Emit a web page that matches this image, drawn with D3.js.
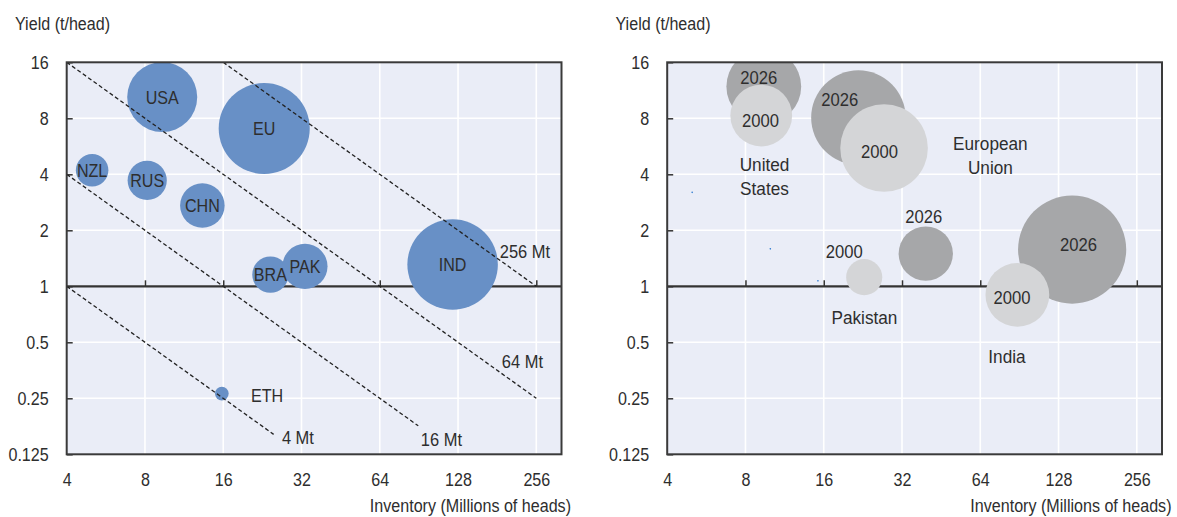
<!DOCTYPE html>
<html><head><meta charset="utf-8">
<script src="https://cdn.jsdelivr.net/npm/d3@7"></script>
<style>
body{margin:0;background:#fff}
svg text{font-family:"Liberation Sans",Arial,Helvetica,sans-serif;fill:#2e2e2e;font-size:18.5px}
</style>
</head><body>
<svg id="chart" width="1177" height="517"></svg>
<script>
// ---------- data ----------
const xTicks = [4, 8, 16, 32, 64, 128, 256];
const yTicks = [0.125, 0.25, 0.5, 1, 2, 4, 8, 16];
const yTickLabels = ["0.125", "0.25", "0.5", "1", "2", "4", "8", "16"];
const yTitle = "Yield (t/head)";
const xTitle = "Inventory (Millions of heads)";

// left panel: countries
const countries  = ["USA", "EU", "NZL", "RUS", "CHN", "IND", "BRA", "PAK", "ETH"];
const inventory  = [9.32, 23.0, 5.01, 8.16, 13.3, 122, 24.3, 33.0, 15.8];
const yields     = [10.4, 7.05, 4.21, 3.71, 2.72, 1.31, 1.155, 1.28, 0.265];
const production = [96.4, 163, 20.8, 30.2, 39, 161, 26, 40, 3.7];
// ETH label sits outside its bubble
const ethLabelAt = [23.6, 0.259];

// iso-production lines (Mt)
const isoMt   = [4, 16, 64, 256];
const isoFrom = [4, 4, 4, 16];
const isoTo   = [25, 90, 256, 256];
const isoLabelAt = [[26.9, 0.154], [92.1, 0.150], [188.6, 0.395], [185.3, 1.54]];

// right panel: 2000 vs 2026
const regions    = ["United States", "European Union", "Pakistan", "India"];
const regionLines = [["United", "States"], ["European", "Union"], ["Pakistan"], ["India"]];
const inv2000    = [9.2, 27.3, 22.9, 88.9];
const yld2000    = [8.28, 5.54, 1.12, 0.899];
const prod2000   = [75, 151, 25.6, 80];
const inv2026    = [9.41, 21.75, 39.5, 144.4];
const yld2026    = [11.86, 8.07, 1.50, 1.575];
const prod2026   = [110, 175.6, 58, 230];
const lab2000At  = [[9.14, 7.79], [26.2, 5.31], [19.2, 1.54], [84.8, 0.866]];
const lab2026At  = [[9.0, 13.2], [18.43, 10.15], [38.8, 2.38], [152.9, 1.675]];
const regionLabelAt = [[9.47, 4.5], [70.0, 5.82], [22.94, 0.68], [81.1, 0.42]];
// stray tiny points visible in the source
const strayX = [4.99, 9.97, 15.2];
const strayY = [3.2, 1.59, 1.07];

// ---------- layout ----------
const svg = d3.select("#chart");
const plotL = 66.7, plotR = 561.5, plotT = 62.3, plotB = 454.3;
const panelOffsets = [0, 600.5];
const colBlue = "#6890c6", col2026 = "#a6a7a9", col2000 = "#d4d5d7";
const bg = "#eaedf7", frameCol = "#3a3a3a", ink = "#333";

const x = d3.scaleLog().base(2).domain([4, 320]).range([plotL, plotR]);
const y = d3.scaleLog().base(2).domain([0.125, 16]).range([plotB, plotT]);
const r = d3.scaleSqrt().domain([0, 160]).range([0, 45.1]);

function squeeze(sel, s) {
  sel.each(function () {
    const t = d3.select(this);
    const ax = +t.attr("x") || 0;
    t.attr("transform", `translate(${ax},0) scale(${s},1) translate(${-ax},0)`);
  });
}

function makePanel(off, id) {
  const g = svg.append("g").attr("transform", `translate(${off},0)`);
  g.append("clipPath").attr("id", "clip" + id)
    .append("rect").attr("x", plotL).attr("y", plotT)
    .attr("width", plotR - plotL).attr("height", plotB - plotT);
  g.append("rect").attr("x", plotL).attr("y", plotT)
    .attr("width", plotR - plotL).attr("height", plotB - plotT).attr("fill", bg);
  // grid
  g.append("g").selectAll("line").data(xTicks.slice(1)).join("line")
    .attr("x1", d => x(d)).attr("x2", d => x(d)).attr("y1", plotT).attr("y2", plotB)
    .attr("stroke", "#fff").attr("stroke-width", 1.6);
  g.append("g").selectAll("line").data(yTicks.slice(1, -1)).join("line")
    .attr("x1", plotL).attr("x2", plotR).attr("y1", d => y(d)).attr("y2", d => y(d))
    .attr("stroke", "#fff").attr("stroke-width", 1.6);
  // y = 1 axis line with upward ticks
  const xa1 = g.append("g").attr("transform", `translate(0,${y(1)})`)
    .call(d3.axisTop(x).tickValues(xTicks.slice(1)).tickSize(6).tickFormat(""));
  xa1.select(".domain").remove();
  xa1.selectAll(".tick line").attr("stroke", ink).attr("stroke-width", 1.5);
  g.append("line").attr("x1", plotL).attr("x2", plotR).attr("y1", y(1)).attr("y2", y(1))
    .attr("stroke", ink).attr("stroke-width", 2.2);
  // bottom labels
  const xa = g.append("g").attr("transform", `translate(0,${plotB})`)
    .call(d3.axisBottom(x).tickValues(xTicks).tickSize(0).tickPadding(19).tickFormat(d => String(d)));
  xa.select(".domain").remove();
  xa.selectAll("text").attr("font-size", null).attr("font-family", null).attr("fill", null);
  squeeze(xa.selectAll("text"), 0.87);
  // left axis ticks + labels
  const ya = g.append("g").attr("transform", `translate(${plotL},0)`)
    .call(d3.axisLeft(y).tickValues(yTicks).tickSize(-6).tickPadding(18)
      .tickFormat((d, i) => yTickLabels[i]));
  ya.select(".domain").remove();
  ya.selectAll(".tick line").attr("stroke", ink).attr("stroke-width", 1.5);
  ya.selectAll("text").attr("font-size", null).attr("font-family", null).attr("fill", null);
  squeeze(ya.selectAll("text"), 0.87);
  // titles
  const t1 = g.append("text").attr("x", 15).attr("y", 24).attr("dy", "0.35em").text(yTitle);
  squeeze(t1, 0.87);
  const t2 = g.append("text").attr("x", 571).attr("y", 506).attr("dy", "0.35em")
    .attr("text-anchor", "end").text(xTitle);
  squeeze(t2, 0.87);
  const plot = g.append("g").attr("clip-path", `url(#clip${id})`);
  return { g, plot };
}

// ---------- left panel ----------
const L = makePanel(panelOffsets[0], "L");
const left = countries.map((c, i) => ({ c, x: inventory[i], y: yields[i], p: production[i] }));
L.plot.append("g").selectAll("circle").data(left).join("circle")
  .attr("cx", d => x(d.x)).attr("cy", d => y(d.y)).attr("r", d => r(d.p))
  .attr("fill", colBlue);
const iso = isoMt.map((m, i) => ({ m, a: isoFrom[i], b: isoTo[i], lab: isoLabelAt[i] }));
L.plot.append("g").selectAll("line").data(iso).join("line")
  .attr("x1", d => x(d.a)).attr("y1", d => y(d.m / d.a))
  .attr("x2", d => x(d.b)).attr("y2", d => y(d.m / d.b))
  .attr("stroke", "#222").attr("stroke-width", 1.3).attr("stroke-dasharray", "4,2.6");
const isoT = L.g.append("g").selectAll("text").data(iso).join("text")
  .attr("x", d => x(d.lab[0])).attr("y", d => y(d.lab[1])).attr("dy", "0.35em")
  .text(d => d.m + " Mt");
squeeze(isoT, 0.89);
const cl = L.g.append("g").selectAll("text").data(left).join("text")
  .attr("x", d => d.c === "ETH" ? x(ethLabelAt[0]) : x(d.x))
  .attr("y", d => d.c === "ETH" ? y(ethLabelAt[1]) : y(d.y))
  .attr("dy", "0.35em").attr("text-anchor", "middle").text(d => d.c);
squeeze(cl, 0.87);

// ---------- right panel ----------
const R = makePanel(panelOffsets[1], "R");
const right = regions.map((c, i) => ({
  c, lines: regionLines[i],
  a: { x: inv2000[i], y: yld2000[i], p: prod2000[i], lab: lab2000At[i] },
  b: { x: inv2026[i], y: yld2026[i], p: prod2026[i], lab: lab2026At[i] },
  lab: regionLabelAt[i]
}));
R.plot.append("g").selectAll("circle").data(right).join("circle")
  .attr("cx", d => x(d.b.x)).attr("cy", d => y(d.b.y)).attr("r", d => r(d.b.p))
  .attr("fill", col2026);
R.plot.append("g").selectAll("circle").data(right).join("circle")
  .attr("cx", d => x(d.a.x)).attr("cy", d => y(d.a.y)).attr("r", d => r(d.a.p))
  .attr("fill", col2000);
R.plot.append("g").selectAll("circle").data(strayX.map((v, i) => [v, strayY[i]])).join("circle")
  .attr("cx", d => x(d[0])).attr("cy", d => y(d[1])).attr("r", 0.8).attr("fill", "#2a78d0");
const yr = R.g.append("g");
const t26 = yr.selectAll("text.y26").data(right).join("text").attr("class", "y26")
  .attr("x", d => x(d.b.lab[0])).attr("y", d => y(d.b.lab[1])).attr("dy", "0.35em")
  .attr("text-anchor", "middle").text("2026");
const t00 = yr.selectAll("text.y00").data(right).join("text").attr("class", "y00")
  .attr("x", d => x(d.a.lab[0])).attr("y", d => y(d.a.lab[1])).attr("dy", "0.35em")
  .attr("text-anchor", "middle").text("2000");
squeeze(t26, 0.9); squeeze(t00, 0.9);
const rn = yr.selectAll("text.rn").data(right).join("text").attr("class", "rn")
  .attr("x", d => x(d.lab[0])).attr("y", d => y(d.lab[1]))
  .attr("text-anchor", "middle");
rn.selectAll("tspan").data(d => d.lines.map(l => ({ l, x: x(d.lab[0]) }))).join("tspan")
  .attr("x", t => t.x).attr("dy", (t, i) => i === 0 ? "0.35em" : "1.28em").text(t => t.l);
squeeze(rn, 0.93);

// frames on top
[L, R].forEach(P => P.g.append("rect").attr("x", plotL).attr("y", plotT)
  .attr("width", plotR - plotL).attr("height", plotB - plotT)
  .attr("fill", "none").attr("stroke", frameCol).attr("stroke-width", 2));
</script>
</body></html>
